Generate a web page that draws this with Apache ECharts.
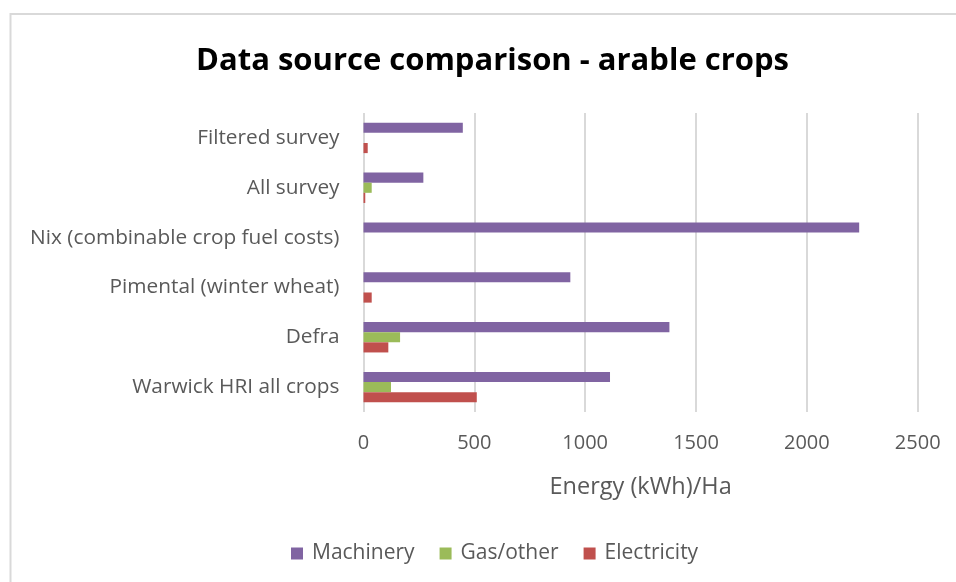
<!DOCTYPE html>
<html>
<head>
<meta charset="utf-8">
<script src="https://cdn.jsdelivr.net/npm/echarts@6/dist/echarts.min.js"></script>
<style>
  html, body { margin: 0; padding: 0; background: #ffffff; }
  #chart { width: 956px; height: 582px; }
</style>
</head>
<body>
<div id="chart"></div>
<script>
// Data sources, listed top to bottom
const sources = [
  'Filtered survey',
  'All survey',
  'Nix (combinable crop fuel costs)',
  'Pimental (winter wheat)',
  'Defra',
  'Warwick HRI all crops'
];

// Energy use per hectare (kWh/Ha) for each source
const machinery   = [448, 270, 2236, 933, 1380, 1112];
const gasOther    = [0, 37, 0, 0, 165, 124];
const electricity = [19, 8, 0, 37, 112, 511];

const energyTicks = [0, 500, 1000, 1500, 2000, 2500];

const seriesNames  = ['Machinery', 'Gas/other', 'Electricity'];
const seriesColors = ['#8064A2', '#9BBB59', '#C0504D'];
const seriesData   = [machinery, gasOther, electricity];

const font = '"Open Sans", Lato, sans-serif';
const chart = echarts.init(document.getElementById('chart'));

chart.setOption({
  animation: false,
  backgroundColor: '#ffffff',
  graphic: [{
    type: 'rect',
    shape: { x: 10.5, y: 14, width: 960, height: 600 },
    style: { fill: 'none', stroke: '#d9d9d9', lineWidth: 2 },
    silent: true,
    z: -1
  }],
  title: {
    text: 'Data source comparison - arable crops',
    left: 191,
    top: 41,
    textStyle: { fontFamily: font, fontSize: 31, fontWeight: 'bold', color: '#000000' }
  },
  legend: {
    bottom: 13,
    left: 286,
    itemWidth: 12,
    itemHeight: 12,
    itemGap: 25,
    icon: 'rect',
    textStyle: { fontFamily: font, fontSize: 21, color: '#595959', padding: [0, 0, 0, 4] },
    data: seriesNames
  },
  grid: { left: 363.5, right: 38.3, top: 113, bottom: 170 },
  xAxis: {
    type: 'value',
    min: energyTicks[0],
    max: energyTicks[energyTicks.length - 1],
    interval: energyTicks[1] - energyTicks[0],
    name: 'Energy (kWh)/Ha',
    nameLocation: 'middle',
    nameGap: 63,
    nameTextStyle: { fontFamily: font, fontSize: 23.5, color: '#595959' },
    axisLine: { show: false },
    axisTick: { show: false },
    axisLabel: {
      fontFamily: font, fontSize: 20, color: '#595959', margin: 21,
      formatter: (v) => String(v)
    },
    splitLine: { show: true, lineStyle: { color: '#d9d9d9', width: 2 } }
  },
  yAxis: {
    type: 'category',
    inverse: true,
    data: sources,
    axisLine: { show: false },
    axisTick: { show: false },
    axisLabel: { fontFamily: font, fontSize: 20.8, color: '#595959', margin: 24 }
  },
  series: seriesNames.map((name, i) => ({
    name: name,
    type: 'bar',
    data: seriesData[i],
    barGap: '0%',
    barCategoryGap: '39%',
    itemStyle: { color: seriesColors[i] }
  }))
});
</script>
</body>
</html>
